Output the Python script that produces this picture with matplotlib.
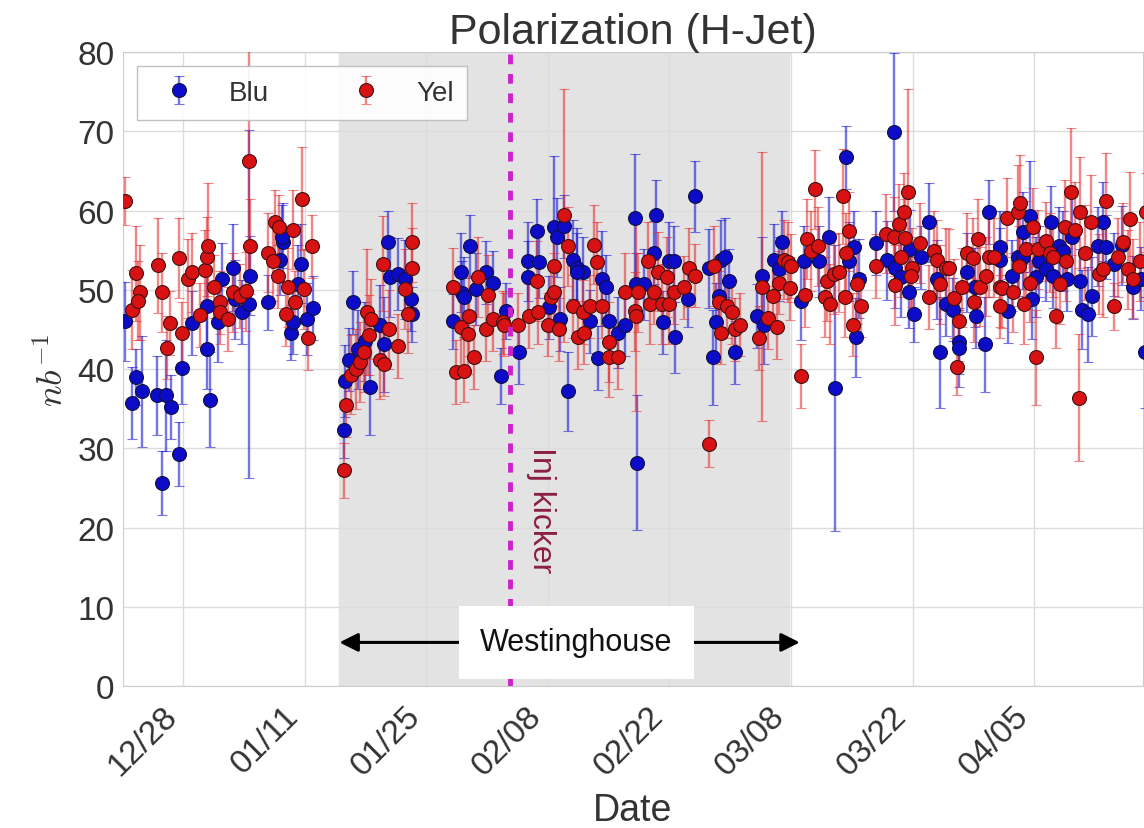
import numpy as np
import pandas as pd
import matplotlib
matplotlib.use('Agg')
import matplotlib.pyplot as plt
import matplotlib.dates as mdates

# days since 2016-12-28, value, error
blu_day = [-6.7, -5.9, -5.4, -4.7, -3.0, -2.0, -2.4, -1.4, -0.5, -0.1, 1.0, 2.8, 3.1, 2.7, 4.0, 4.5,
           5.7, 6.0, 6.8, 7.7, 7.6, 9.8, 11.2, 11.5, 11.4, 13.6, 13.2, 12.4, 12.7, 14.3, 15.0,
           18.5, 18.7, 19.1, 19.6, 20.1, 21.0, 21.5, 22.7, 23.1, 23.6, 23.8, 24.8, 25.6, 26.2, 26.4,
           31.1, 32.0, 32.1, 33.0, 32.3, 33.7, 34.9, 35.7, 36.6, 37.2, 38.7, 39.7, 39.7,
           40.8, 41.0, 42.1, 42.7, 43.0, 43.8, 43.4, 44.3, 44.9, 45.4, 46.1, 45.3, 46.8, 47.8, 48.2,
           48.7, 49.0, 50.1, 50.9, 52.0, 52.2, 52.3, 53.1, 54.2, 54.5, 55.3, 55.9, 56.5, 56.6, 58.1,
           58.9, 61.0, 61.4, 61.7, 61.9,
           60.5, 62.4, 62.8, 63.5, 66.1, 66.9, 66.6, 68.0, 68.9, 68.6, 71.1, 71.5, 73.2, 74.4, 75.1,
           76.3, 77.3, 76.7, 77.5, 77.8,
           79.8, 81.1, 81.9, 82.0, 82.6, 83.6, 83.7, 84.2, 85.0, 85.9, 86.8, 87.2, 87.8, 88.6, 89.3,
           89.3, 90.2, 91.2, 91.3, 92.3, 92.8, 94.0, 94.1,
           95.0, 95.4, 96.1, 96.7, 97.5, 96.7, 97.7, 98.2, 98.6, 99.3, 99.9, 100.1, 100.9, 101.3,
           101.8, 102.4, 103.3, 103.5, 104.2, 104.6, 105.3, 105.9, 106.2, 107.2, 108.1, 109.4,
           110.3, 110.7]
blu_val = [46.0, 35.7, 39.0, 37.2, 36.7, 36.7, 25.6, 35.2, 29.3, 40.1, 45.8, 42.5, 36.1, 47.9, 45.9, 51.4,
           52.8, 48.8, 47.2, 51.8, 48.2, 48.4, 53.8, 56.0, 56.7, 53.3, 50.7, 44.6, 45.9, 46.3, 47.7,
           32.3, 38.5, 41.2, 48.4, 42.5, 43.5, 37.7, 45.6, 43.1, 56.0, 51.6, 52.0, 51.3, 48.8, 46.9,
           46.0, 52.2, 49.6, 55.5, 49.1, 50.1, 52.2, 50.9, 39.1, 47.3, 42.1, 53.6, 51.6,
           57.4, 53.5, 47.8, 57.9, 56.6, 58.0, 46.3, 37.2, 53.8, 52.8, 52.2, 52.2, 46.0, 41.4, 51.4,
           50.4, 46.0, 44.6, 45.6, 59.1, 50.7, 28.2, 50.7, 54.7, 59.4, 45.9, 53.6, 53.6, 44.0, 48.8,
           61.8, 41.5, 45.9, 49.2, 53.8,
           52.7, 54.1, 51.1, 42.1, 46.7, 45.6, 51.7, 53.8, 56.0, 52.6, 48.6, 53.6, 53.6, 56.7, 37.6,
           66.7, 55.4, 53.6, 44.0, 51.4,
           55.9, 53.7, 69.9, 52.7, 51.6, 49.7, 55.1, 46.9, 54.1, 58.5, 51.3, 42.1, 48.2, 47.5, 43.4,
           42.7, 52.2, 50.3, 46.7, 43.1, 59.8, 55.4, 53.8,
           47.3, 51.8, 54.2, 57.3, 59.3, 54.1, 48.8, 51.6, 53.6, 52.6, 58.6, 51.7, 55.5, 54.9,
           51.3, 56.7, 51.1, 47.5, 46.9, 49.2, 55.5, 58.6, 55.4, 53.2, 55.6, 50.3,
           51.4, 42.1]
blu_err = [5, 4.5, 3.5, 7, 5, 7, 4, 4, 4, 4.5, 4, 5, 6, 5, 5, 4.5,
           5.5, 5, 4, 5, 22, 3.5, 4.5, 5, 4, 5, 5, 3.5, 4, 4.5, 4,
           3.5, 4.5, 4, 4, 5, 5, 6, 5, 6, 4, 5, 4.5, 5, 4, 3.5,
           3.5, 5, 4, 4, 5, 4.5, 4, 4, 3.5, 3.5, 4, 5, 4.5,
           4, 4.5, 4, 9, 5, 4, 4, 5, 5, 5, 4.5, 5, 4, 4, 6,
           4, 4, 4.5, 4, 8, 4, 8.5, 4.5, 4, 4.5, 4, 5, 4.5, 4.5, 3.5,
           4.5, 6, 5, 4.5, 5,
           5, 5, 4, 4, 4, 5, 5, 4.5, 4, 4, 5, 4.5, 4.5, 5, 18,
           4, 4.5, 5, 5, 5,
           4, 5, 10, 5, 5, 4.5, 5, 3.5, 4, 5, 5, 7, 4, 4, 4,
           5, 5, 5, 4, 6, 4, 4.5, 4,
           4, 4.5, 5, 5, 7, 4, 5, 5, 4.5, 4, 4.5, 4, 5, 5,
           4, 5, 4, 5, 6, 5, 5, 5, 4, 4, 5, 4,
           4, 7]

yel_day = [-6.7, -5.9, -5.4, -5.0, -5.2, -2.9, -2.4, -1.8, -1.5, -0.5, -0.1, 0.6, 1.0, 2.0, 2.5, 2.8,
           2.9, 3.6, 4.2, 4.3, 5.2, 5.7, 6.6, 7.2, 7.6, 7.7, 9.8, 10.3, 10.6, 11.1, 10.9, 11.8, 12.1,
           12.7, 12.9, 13.7, 13.9, 14.4, 14.9,
           18.5, 18.8, 19.3, 19.9, 20.4, 20.8, 21.2, 21.6, 21.4, 22.7, 23.1, 23.0, 23.7, 24.8, 25.6,
           25.9, 26.4, 26.4, 31.1, 31.4, 32.3, 32.0, 32.8, 32.9, 33.5, 33.9, 34.9, 35.1, 35.7, 36.8,
           37.0, 38.6, 39.8,
           40.9, 40.8, 42.0, 42.4, 42.7, 42.7, 43.3, 43.9, 44.3, 44.9, 45.5, 46.1, 46.2, 46.8, 47.3,
           47.7, 48.2, 49.0, 49.0, 50.1, 50.9, 52.0, 52.2, 52.4, 53.5, 53.8, 54.2, 54.7, 55.1, 55.7,
           56.0, 56.5, 57.7, 58.2, 58.9, 60.6, 61.1, 61.7,
           61.9, 62.6, 63.2, 63.5, 64.1, 66.3, 66.7, 67.4, 67.9, 68.4, 68.6, 69.2, 69.6, 70.0, 69.9,
           71.1, 71.6, 71.8, 72.3, 72.7, 73.1, 74.1, 73.9, 74.5, 74.9, 75.5, 76.0, 76.2, 76.7, 76.3,
           77.1, 77.6,
           78.1, 79.8, 80.9, 81.9, 82.0, 82.4, 82.7, 83.0, 83.1, 83.5, 83.9, 83.8, 84.9, 85.9, 86.5,
           86.8, 87.2, 87.8, 88.2, 88.8, 89.3, 89.1, 89.7, 90.2, 90.9, 91.1, 91.5, 91.8, 92.4, 92.8,
           94.0, 94.0,
           93.4, 94.3, 94.9, 95.5, 96.1, 96.4, 96.2, 96.8, 97.0, 97.5, 97.9, 98.2, 98.4, 99.3, 99.8,
           100.1, 100.5, 101.0, 101.5, 101.6, 102.2, 102.7, 103.1, 103.3, 103.8, 104.5, 105.5,
           105.9, 106.2, 107.2, 107.6, 108.2, 108.8, 109.0, 109.4, 110.2, 110.9]
yel_val = [61.2, 47.5, 52.1, 49.7, 48.6, 53.1, 49.7, 42.7, 45.8, 54.0, 44.5, 51.4, 52.2, 46.8, 52.5, 54.2,
           55.5, 50.4, 48.4, 47.2, 46.3, 49.7, 49.2, 49.8, 66.2, 55.5, 54.7, 53.6, 58.6, 57.9, 51.7, 46.9, 50.3,
           57.6, 48.4, 61.5, 50.1, 43.9, 55.5,
           27.2, 35.4, 39.3, 40.0, 40.9, 42.1, 47.2, 46.3, 44.3, 41.2, 40.6, 53.3, 45.0, 42.9, 50.1,
           47.0, 56.0, 52.8, 50.3, 39.6, 39.8, 45.3, 44.4, 46.7, 41.5, 51.6, 45.0, 49.4, 46.3, 45.9,
           45.6, 45.6, 46.7,
           47.2, 51.1, 45.6, 49.1, 49.7, 53.0, 45.0, 59.4, 55.5, 47.9, 44.0, 47.2, 44.6, 47.9, 55.7,
           53.5, 47.9, 43.4, 41.5, 41.5, 49.7, 47.3, 46.7, 49.7, 53.6, 48.2, 49.7, 52.3, 48.2, 51.6,
           48.2, 49.7, 50.3, 52.8, 51.8, 30.6, 53.0, 48.4,
           44.6, 47.9, 47.2, 45.0, 45.6, 43.9, 50.4, 46.5, 49.2, 45.3, 50.9, 53.8, 53.5, 53.0, 50.2,
           39.1, 49.3, 56.4, 54.9, 62.7, 55.5, 51.1, 49.1, 48.2, 52.0, 52.2, 61.8, 49.1, 57.4, 54.7,
           45.6, 50.7,
           48.0, 53.0, 57.1, 56.7, 50.6, 58.3, 54.1, 59.8, 56.5, 62.3, 52.8, 51.7, 55.9, 49.1, 54.9,
           53.8, 50.7, 52.8, 52.7, 48.9, 46.0, 40.2, 50.3, 54.7, 54.0, 48.4, 56.4, 50.4, 51.7, 54.1,
           50.3, 47.9,
           54.1, 50.2, 59.1, 49.7, 59.8, 61.0, 53.0, 48.2, 55.2, 50.9, 57.9, 41.5, 55.1, 56.1, 54.7,
           54.1, 46.7, 50.7, 57.9, 53.6, 62.4, 57.6, 36.4, 59.8, 54.7, 58.5, 52.0,
           52.6, 61.2, 47.9, 54.1, 56.0, 52.6, 58.9, 51.4, 53.6, 59.8]
yel_err = [3, 5, 6, 6, 5, 6, 5, 4, 4, 5, 4, 5, 5, 4, 5, 5,
           8, 4, 4, 4, 4, 5, 4, 5, 14, 6, 5, 5, 4, 4, 4, 4, 5,
           5, 4, 6.5, 5, 4, 4,
           3.5, 4, 5, 5, 5, 5, 8, 5, 5, 5, 4, 6, 5, 4, 5,
           5, 5, 5, 5, 4, 4, 5, 5, 5, 4, 5, 4, 5, 4, 4,
           4, 4, 4,
           4, 5, 4, 4, 5, 5, 4, 16, 5, 4, 4, 4, 4, 4, 5,
           5, 4, 5, 5, 4, 5, 5, 12, 5, 5, 5, 4, 5, 5, 5,
           5, 4, 4, 5, 4, 3, 5, 4,
           4, 4, 4, 4, 4, 4, 17, 4, 4, 4, 4, 5, 5, 4, 4,
           4, 4, 5, 5, 5, 5, 5, 5, 5, 5, 5, 6, 5, 5, 5,
           4, 5,
           4, 4, 5, 5, 5, 5, 5, 5, 5, 13, 5, 5, 5, 4, 5,
           5, 5, 5, 5, 5, 5, 3.5, 5, 5, 5, 5, 5, 5, 5, 5,
           5, 4,
           5, 5, 5, 5, 6, 6, 5, 5, 6, 5, 5, 6, 5, 5, 5,
           5, 4, 5, 6, 5, 8, 6, 8, 7, 6, 6, 5,
           6, 6, 3, 5, 5, 5, 6, 5, 5, 5]

tick_dates = ['2016-12-28', '2017-01-11', '2017-01-25', '2017-02-08',
              '2017-02-22', '2017-03-08', '2017-03-22', '2017-04-05']
westinghouse = ('2017-01-15 00:00', '2017-03-07 19:00')
inj_kicker = '2017-02-03 15:00'

t0 = pd.Timestamp('2016-12-28')
blu_t = t0 + pd.to_timedelta(blu_day, unit='D')
yel_t = t0 + pd.to_timedelta(yel_day, unit='D')

plt.rcParams['font.family'] = ['Liberation Sans', 'DejaVu Sans']
plt.rcParams['mathtext.fontset'] = 'cm'

fig = plt.figure(figsize=(11.44, 8.29), dpi=100)
ax = fig.add_axes([0.1075, 0.1713, 0.8915, 0.7647])

ax.axvspan(pd.Timestamp(westinghouse[0]), pd.Timestamp(westinghouse[1]),
           color='#e3e3e3', zorder=0)

ax.errorbar(blu_t, blu_val, yerr=blu_err, fmt='o', ms=10, mfc='#0c0cc8', mec='#101040',
            mew=0.8, ecolor=(0.1, 0.1, 0.85, 0.6), elinewidth=1.7, capsize=3.5, capthick=1,
            label='Blu', zorder=3)
ax.errorbar(yel_t, yel_val, yerr=yel_err, fmt='o', ms=10, mfc='#d81212', mec='#401010',
            mew=0.8, ecolor=(0.9, 0.15, 0.15, 0.55), elinewidth=1.7, capsize=3.5, capthick=1,
            label='Yel', zorder=3)

ax.axvline(pd.Timestamp(inj_kicker), color='#cc22cc', ls=(0, (2, 2)), lw=3.5, zorder=4)
ax.text(pd.Timestamp('2017-02-07 05:00'), 22.3, 'Inj kicker', rotation=270,
        ha='center', va='center', fontsize=23, color='#8b1f45', zorder=5)

x0 = mdates.date2num(pd.Timestamp('2017-01-15 00:00'))
x1 = mdates.date2num(pd.Timestamp('2017-03-09 00:00'))
ax.annotate('', xy=(x0, 5.5), xytext=(x1, 5.5),
            arrowprops=dict(arrowstyle='<|-|>', color='black', lw=2.2,
                            mutation_scale=28, shrinkA=0, shrinkB=0), zorder=5)
ax.text(mdates.date2num(pd.Timestamp('2017-02-11 07:00')), 5.5, 'Westinghouse',
        ha='center', va='center', fontsize=22, color='#111111', zorder=6,
        bbox=dict(boxstyle='square,pad=0.7', facecolor='white', edgecolor='none'))

ax.set_xlim(pd.Timestamp('2016-12-21 02:00'), pd.Timestamp('2017-04-17 12:00'))
ax.set_ylim(0, 80)
ax.set_yticks(range(0, 81, 10))
ax.set_xticks([pd.Timestamp(d) for d in tick_dates])
ax.xaxis.set_major_formatter(mdates.DateFormatter('%m/%d'))
plt.setp(ax.get_xticklabels(), rotation=45, ha='right')

ax.grid(True, color='#dcdcdc', lw=1)
ax.set_axisbelow(True)
for s in ax.spines.values():
    s.set_color('#cccccc')
ax.tick_params(length=0, labelsize=24, colors='#333333', pad=6)
ax.tick_params(axis='x', pad=10)

ax.set_title('Polarization (H-Jet)', fontsize=31, color='#333333', pad=-2)
ax.set_xlabel('Date', fontsize=27, color='#333333', labelpad=8)
ax.set_ylabel('$nb^{-1}$', fontsize=26, color='#333333')

leg = ax.legend(loc='upper left', ncol=2, fontsize=20, frameon=True, fancybox=False,
                borderpad=0.5, columnspacing=2.5)
leg.get_frame().set_edgecolor('#bbbbbb')
leg.get_frame().set_facecolor('white')
leg.get_frame().set_alpha(0.9)
for t in leg.get_texts():
    t.set_color('#333333')

fig.savefig('out.png', dpi=100)
